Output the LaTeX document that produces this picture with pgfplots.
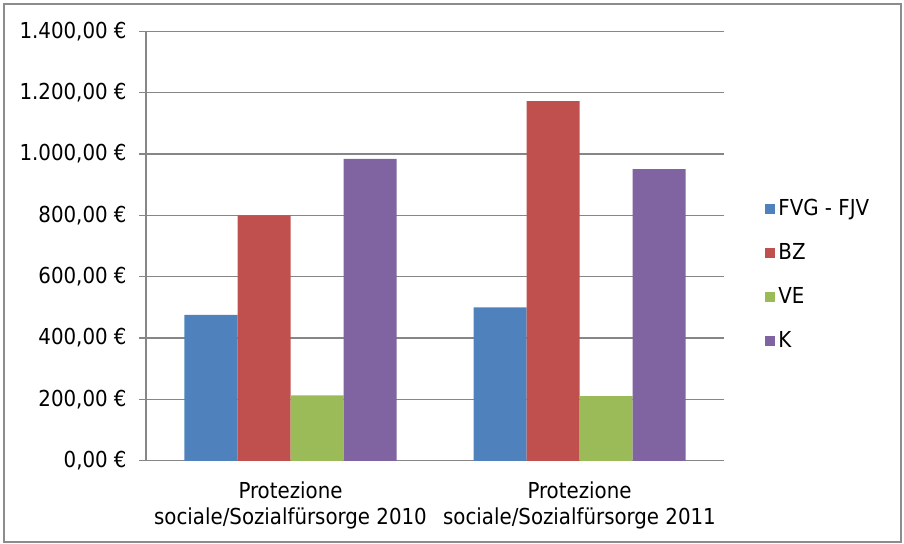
\documentclass[border=0pt]{standalone}
\usepackage{pgfplots}
\pgfplotsset{compat=1.18}
\usepackage{fontspec}
\setmainfont{DejaVu Sans Condensed}
\definecolor{fvg}{HTML}{4F81BD}
\definecolor{bz}{HTML}{C0504D}
\definecolor{ve}{HTML}{9BBB59}
\definecolor{kk}{HTML}{8064A2}
\definecolor{axisgray}{HTML}{868686}
\definecolor{framegray}{HTML}{8C8C8C}
\begin{document}
\begin{tikzpicture}[font=\fontsize{11}{13}\selectfont]
\useasboundingbox (0pt,0pt) rectangle (452pt,272pt);
\draw[framegray, line width=0.9pt] (2pt,1pt) rectangle (450.5pt,270pt);
\begin{axis}[
  at={(73pt,41.6pt)}, anchor=south west,
  scale only axis, width=289pt, height=214.7pt,
  xmin=-0.5, xmax=1.5, ymin=0, ymax=1400,
  ybar=0pt, bar width=26.5pt,
  axis lines*=left,
  axis line style={axisgray, line width=0.7pt},
  ymajorgrids, grid style={axisgray, line width=0.7pt},
  ytick={0,200,...,1400},
  yticklabels={{0,00 €},{200,00 €},{400,00 €},{600,00 €},{800,00 €},{1.000,00 €},{1.200,00 €},{1.400,00 €}},
  xtick={0,1},
  xticklabels={{Protezione\\sociale/Sozialfürsorge 2010},{Protezione\\sociale/Sozialfürsorge 2011}},
  xticklabel style={align=center, inner sep=0pt, yshift=-7pt},
  yticklabel style={inner sep=0pt, xshift=-6pt},
  xtick style={draw=none},
  minor xtick={-0.5,0.5,1.5},
  minor tick length=3.5pt, major tick length=3.5pt,
  tick align=outside, tick style={axisgray, line width=0.7pt},
  xtick pos=bottom, ytick pos=left,
  legend style={at={(1.071,0.433)}, anchor=west, draw=none, fill=none,
    inner sep=0pt, row sep=9.5pt, font=\fontsize{11}{13}\selectfont,
    nodes={inner sep=1.5pt}},
  legend cell align=left,
  legend image code/.code={\fill[#1] (0pt,-2.5pt) rectangle (5pt,2.5pt);},
]
\addplot[fill=fvg, draw=none] coordinates {(0,476) (1,500)};
\addplot[fill=bz, draw=none] coordinates {(0,800) (1,1173)};
\addplot[fill=ve, draw=none] coordinates {(0,213) (1,211)};
\addplot[fill=kk, draw=none] coordinates {(0,984) (1,951)};
\legend{FVG - FJV, BZ, VE, K}
\end{axis}
\end{tikzpicture}
\end{document}
